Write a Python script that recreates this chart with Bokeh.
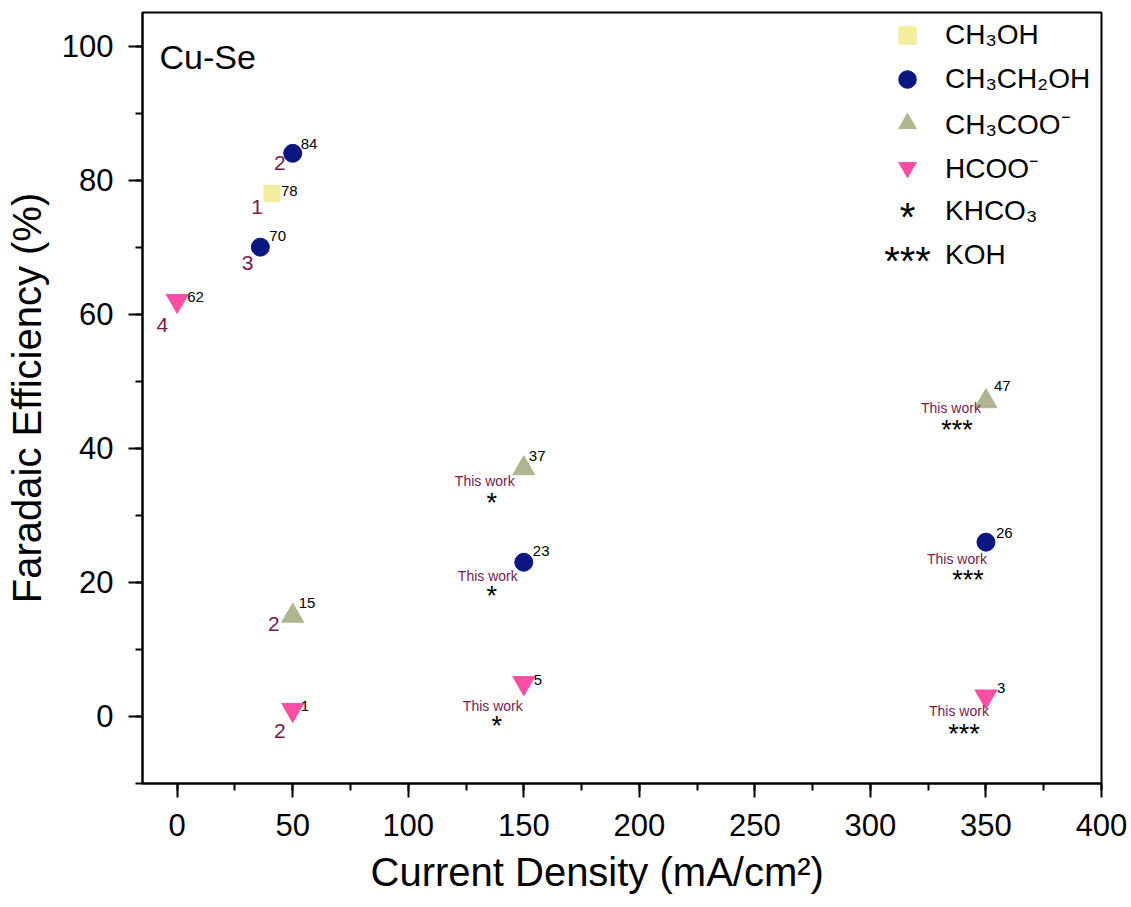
from bokeh.plotting import figure
from bokeh.models import (ColumnDataSource, Range1d, SingleIntervalTicker,
                          Legend, LegendItem, Label, Title)
from bokeh.core.properties import value
from bokeh.embed import file_html
from bokeh.resources import INLINE

# Faradaic efficiency (%) versus current density (mA/cm²) for Cu-Se catalysts
methanol_j = [41]
methanol_fe = [78]

ethanol_j = [50, 36, 150, 350]
ethanol_fe = [84, 70, 23, 26]

acetate_j = [50, 150, 350]
acetate_fe = [15, 37, 47]

formate_j = [0, 50, 150, 350]
formate_fe = [62, 1, 5, 3]

# literature points and their reference numbers
lit_j = [50, 41, 36, 0, 50, 50]
lit_fe = [84, 78, 70, 62, 15, 1]
lit_ref = ["2", "1", "3", "4", "2", "2"]

# points measured in this work and the electrolyte used (* KHCO3, *** KOH)
tw_j = [150, 150, 150, 350, 350, 350]
tw_fe = [37, 23, 5, 47, 26, 3]
tw_electrolyte = ["*", "*", "*", "***", "***", "***"]

legend_labels = ["CH₃OH", "CH₃CH₂OH", "CH₃COO⁻", "HCOO⁻", "KHCO₃", "KOH"]

# label placement in screen pixels, relative to each marker centre
# value labels (left edge, vertical centre), order: methanol, ethanol, acetate, formate
val_dx = [9, 8, 9, 9, 10, 6, 5, 8, 10, 8, 10, 11]
val_dy = [-3, -9, -11, -11, -9, -13, -12, -15, -4, -4, -3, -8]
# reference numbers (right edge, vertical centre)
lit_dx = [-7, -9, -7, -9, -13, -7]
lit_dy = [10, 13, 16, 24, 8, 21]
# centre of the "This work" caption and of the electrolyte stars
tw_text_dx = [-39, -36, -31, -35, -29, -27]
tw_text_dy = [13, 14, 23, 7, 17, 15]
tw_star_dx = [-32, -32, -27, -29, -18, -22]
tw_star_dy = [31, 31, 40, 25, 35, 34]

FONT = "Liberation Sans"
MAROON = "#7a1a4f"
C_METHANOL = "#f3ee9e"
C_ETHANOL = "#0b1780"
C_ACETATE = "#b0b48f"
C_FORMATE = "#ff4da6"

p = figure(width=1131, height=907,
           x_range=Range1d(-15, 400), y_range=Range1d(-10, 105),
           output_backend="svg", toolbar_location=None,
           min_border_left=142, min_border_right=30,
           min_border_top=12, min_border_bottom=124)

p.grid.visible = False
p.outline_line_color = "black"
p.outline_line_width = 2
p.outline_line_alpha = 1
p.background_fill_color = "white"
p.border_fill_color = "white"

p.xaxis.ticker = SingleIntervalTicker(interval=50, num_minor_ticks=2)
p.yaxis.ticker = SingleIntervalTicker(interval=20, num_minor_ticks=2)
for ax in (p.xaxis, p.yaxis):
    ax.axis_line_width = 2
    ax.axis_line_color = "black"
    ax.major_tick_line_width = 2
    ax.minor_tick_line_width = 2
    ax.major_tick_line_color = "black"
    ax.minor_tick_line_color = "black"
    ax.major_tick_in = 0
    ax.major_tick_out = 14
    ax.minor_tick_in = 0
    ax.minor_tick_out = 7
    ax.major_label_text_font = FONT
    ax.major_label_text_font_size = "31px"
    ax.major_label_text_color = "black"
    ax.axis_label_text_font = FONT
    ax.axis_label_text_font_size = "40px"
    ax.axis_label_text_font_style = "normal"
    ax.axis_label_text_color = "black"
p.xaxis.major_label_standoff = 16
p.yaxis.major_label_standoff = 15
p.yaxis.axis_label = "Faradaic Efficiency (%)"
p.yaxis.axis_label_standoff = 10

# x-axis title, set slightly left of centre
p.add_layout(Title(text="Current Density (mA/cm²)", align="left", offset=228,
                   standoff=18, text_font=FONT, text_font_size="40px",
                   text_font_style="normal", text_color="black"), "below")

r_meoh = p.scatter(methanol_j, methanol_fe, marker="square", size=16,
                   fill_color=C_METHANOL, line_color=C_METHANOL)
r_etoh = p.scatter(ethanol_j, ethanol_fe, marker="circle", size=18,
                   fill_color=C_ETHANOL, line_color=C_ETHANOL)
r_ac = p.scatter(acetate_j, acetate_fe, marker="triangle", size=22,
                 fill_color=C_ACETATE, line_color=C_ACETATE)
r_fo = p.scatter(formate_j, formate_fe, marker="inverted_triangle", size=22,
                 fill_color=C_FORMATE, line_color=C_FORMATE)

# value labels next to every point
all_j = methanol_j + ethanol_j + acetate_j + formate_j
all_fe = methanol_fe + ethanol_fe + acetate_fe + formate_fe
val_src = ColumnDataSource(dict(x=all_j, y=all_fe, t=[str(v) for v in all_fe],
                                dx=val_dx, dy=val_dy))
p.text(x="x", y="y", text="t", source=val_src, x_offset="dx", y_offset="dy",
       text_font=value(FONT), text_font_size="15px", text_color="black",
       text_align="left", text_baseline="middle")

# reference numbers for literature data
lit_src = ColumnDataSource(dict(x=lit_j, y=lit_fe, t=lit_ref, dx=lit_dx, dy=lit_dy))
p.text(x="x", y="y", text="t", source=lit_src, x_offset="dx", y_offset="dy",
       text_font=value(FONT), text_font_size="21px", text_color=MAROON,
       text_align="right", text_baseline="middle")

# "This work" captions with electrolyte markers
star_size = 27
tw_src = ColumnDataSource(dict(
    x=tw_j, y=tw_fe, star=tw_electrolyte,
    tdx=tw_text_dx, tdy=tw_text_dy,
    sdx=tw_star_dx, sdy=[d + 0.12 * star_size for d in tw_star_dy]))
p.text(x="x", y="y", text=value("This work"), source=tw_src,
       x_offset="tdx", y_offset="tdy",
       text_font=value(FONT), text_font_size="14px", text_color=MAROON,
       text_align="center", text_baseline="middle")
p.text(x="x", y="y", text="star", source=tw_src,
       x_offset="sdx", y_offset="sdy",
       text_font=value(FONT), text_font_size=f"{star_size}px", text_color="black",
       text_align="center", text_baseline="middle")

# placeholders for the electrolyte legend rows
r_khco3 = p.scatter([], [], fill_alpha=0, line_alpha=0)
r_koh = p.scatter([], [], fill_alpha=0, line_alpha=0)

legend = Legend(
    items=[LegendItem(label=lab, renderers=[r]) for lab, r in
           zip(legend_labels, [r_meoh, r_etoh, r_ac, r_fo, r_khco3, r_koh])],
    location=(743, 506), margin=0, padding=0, spacing=0,
    glyph_width=44, glyph_height=44, label_height=44, label_standoff=16,
    label_text_font=FONT, label_text_font_size="28px", label_text_color="black",
    border_line_alpha=0, background_fill_alpha=0)
p.add_layout(legend)

for txt, yy in (("*", 567), ("***", 523)):
    p.add_layout(Label(x=765, y=yy, x_units="screen", y_units="screen", text=txt,
                       text_align="center", text_baseline="middle",
                       text_font=FONT, text_font_size="40px", text_color="black"))

p.add_layout(Label(x=17, y=727, x_units="screen", y_units="screen", text="Cu-Se",
                   text_align="left", text_baseline="middle",
                   text_font=FONT, text_font_size="34px", text_color="black"))

open("out.html", "w").write(file_html(p, INLINE))
